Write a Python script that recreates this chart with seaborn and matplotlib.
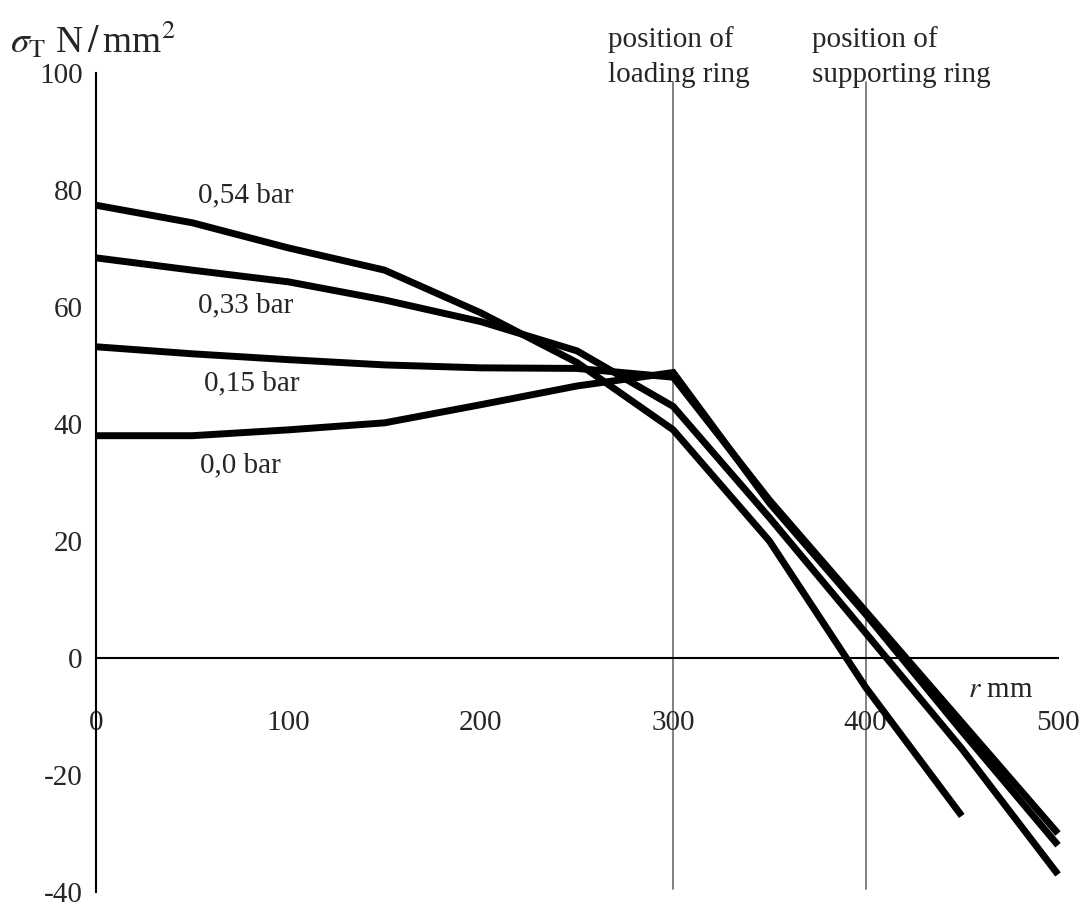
import numpy as np
import pandas as pd
import seaborn as sns
import matplotlib.pyplot as plt

# Данные
r_mm = [0, 50, 100, 150, 200, 250, 300, 350, 400, 450, 500]
s_054 = [77.4, 74.4, 70.1, 66.3, 59.0, 50.5, 39.0, 20.0, -5.0, -27.0]
s_033 = [68.4, 66.3, 64.3, 61.2, 57.5, 52.5, 43.0, 24.0, 4.3, -15.5, -37.0]
s_015 = [53.2, 52.0, 51.0, 50.1, 49.6, 49.5, 48.0, 27.0, 8.0, -11.0, -30.0]
s_000 = [38.0, 38.0, 39.0, 40.2, 43.3, 46.5, 48.8, 26.5, 7.5, -12.5, -32.0]
pressures = ['0,54 bar', '0,33 bar', '0,15 bar', '0,0 bar']
label_pos = [(78, 79), (78, 60.3), (81, 47), (75, 33)]
ring_r = [300, 400]
ring_text = ['position of\nloading ring', 'position of\nsupporting ring']

frames = []
for name, vals in zip(pressures, [s_054, s_033, s_015, s_000]):
    frames.append(pd.DataFrame({'r': r_mm[:len(vals)], 'sigma': vals, 'p': name}))
df = pd.concat(frames, ignore_index=True)

sns.set_style('white')
plt.rcParams['font.family'] = ['Liberation Serif', 'DejaVu Serif']
plt.rcParams['mathtext.fontset'] = 'stix'
plt.rcParams['axes.unicode_minus'] = False

fig = plt.figure(figsize=(10.88, 9.06), dpi=100)
ax = fig.add_axes([96 / 1088, 14 / 906, 962 / 1088, 819 / 906])

sns.lineplot(data=df, x='r', y='sigma', hue='p', palette=['black'] * 4,
             legend=False, sort=False, linewidth=5, ax=ax, clip_on=False,
             solid_capstyle='butt', solid_joinstyle='miter')

# Вертикальные линии колец
for xr in ring_r:
    ax.plot([xr, xr], [-39.5, 98.5], color='#777777', lw=1.3, zorder=0, clip_on=False)

ax.set_xlim(0, 500)
ax.set_ylim(-40, 100)
for s in ['top', 'right']:
    ax.spines[s].set_visible(False)
ax.spines['left'].set_position(('data', 0))
ax.spines['bottom'].set_position(('data', 0))
for s in ['left', 'bottom']:
    ax.spines[s].set_color('black')
    ax.spines[s].set_linewidth(1.5)

ax.set_xticks([0, 100, 200, 300, 400, 500])
ax.set_yticks([-40, -20, 0, 20, 40, 60, 80, 100])
ax.tick_params(axis='both', direction='inout', length=13, width=1.2, labelsize=21, color='black')
ax.tick_params(axis='x', pad=31)
ax.tick_params(axis='y', pad=3)
ax.set_xlabel('')
ax.set_ylabel('')

for name, (lx, ly) in zip(pressures, label_pos):
    ax.text(lx, ly, name, fontsize=21, ha='center', va='center')

ax.text(470, -5.5, r'$r$ mm', fontsize=21, ha='center', va='center')
fig.text(10 / 1088, 1 - 40 / 906, r'$\sigma_{\mathrm{T}}$ N$\,/\,$mm$^2$', fontsize=27,
         ha='left', va='center')

for xpx, txt in zip([608, 812], ring_text):
    fig.text(xpx / 1088, 1 - 88 / 906, txt, fontsize=21, ha='left', va='bottom', linespacing=1.45)

plt.savefig('out.png', dpi=100)
